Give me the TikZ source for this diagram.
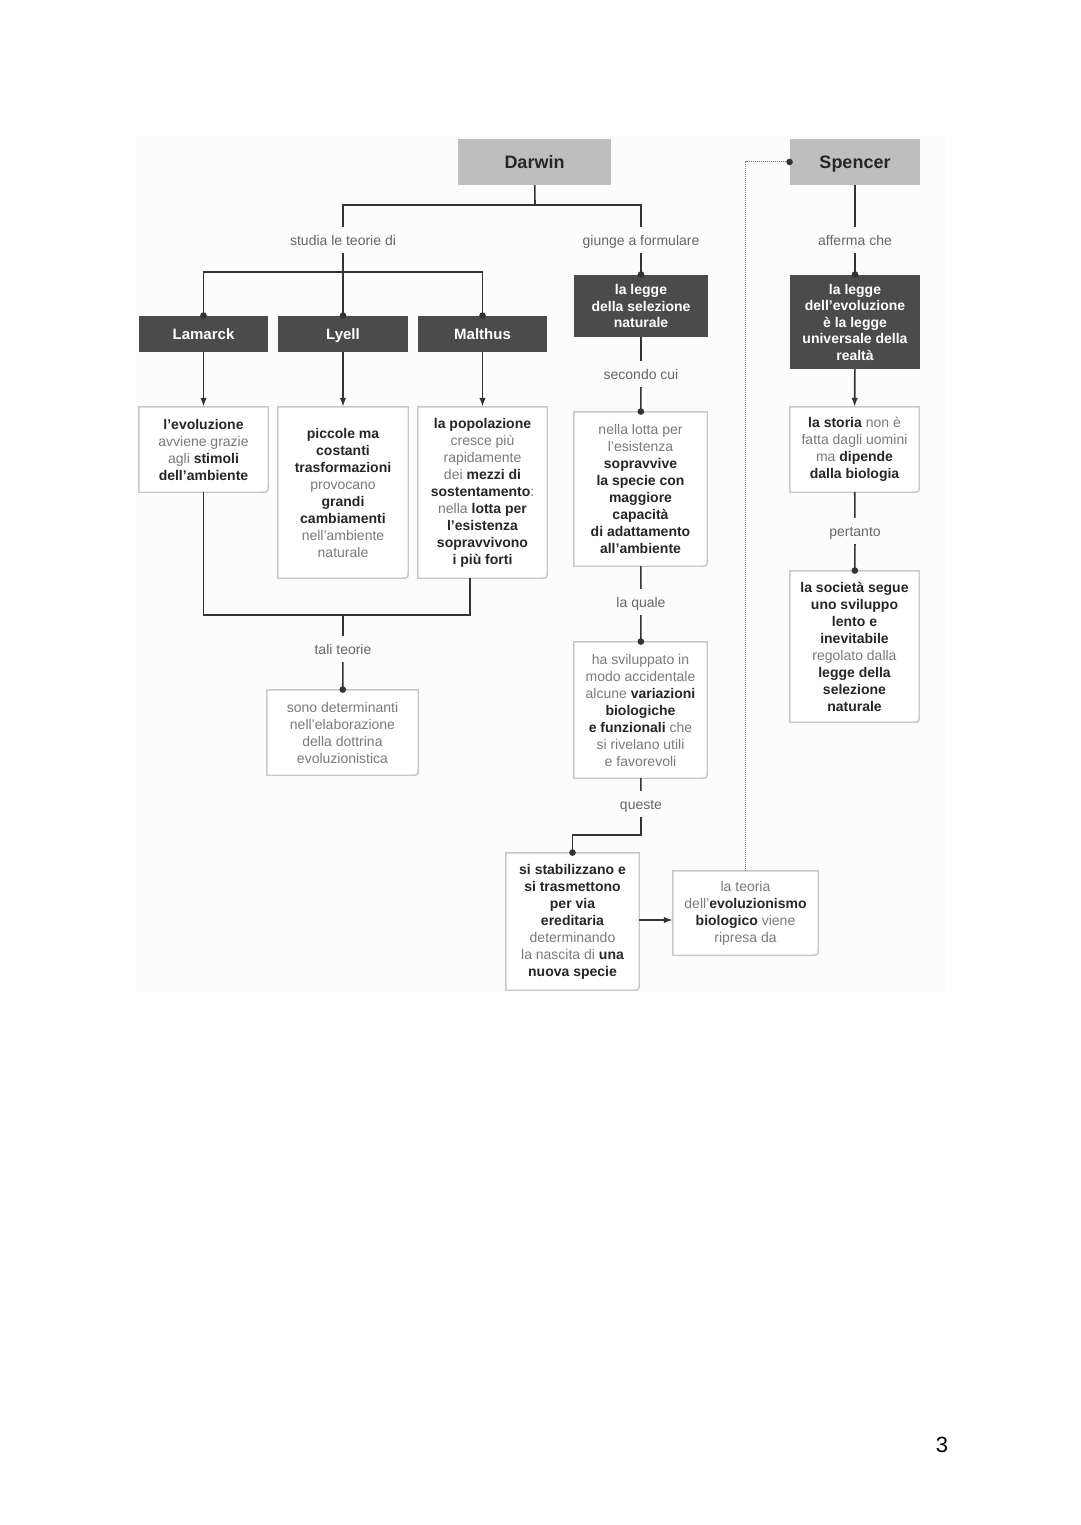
\documentclass[tikz,border=0pt]{standalone}
\usepackage{fontspec}
\setmainfont{Liberation Sans}
\usetikzlibrary{arrows.meta}
\definecolor{bgc}{HTML}{FCFCFC}
\definecolor{ink}{HTML}{262626}
\definecolor{txtgray}{HTML}{7A7A7A}
\definecolor{lblgray}{HTML}{666666}
\definecolor{darkfill}{HTML}{4B4B4B}
\definecolor{headfill}{HTML}{BEBEBE}
\definecolor{linegray}{HTML}{333333}
\definecolor{edgegray}{HTML}{C8C8C8}
\newcommand{\kw}[1]{\textbf{\color{ink}#1}}

\tikzset{
  headbox/.style={fill=headfill, text=ink, font=\fontsize{18}{20}\selectfont\bfseries, inner sep=0pt, text height=13pt, text depth=0pt},
  namebox/.style={fill=darkfill, text=white, font=\fontsize{15}{17}\selectfont\bfseries, inner sep=0pt, text height=11pt, text depth=0pt},
  lawbox/.style={fill=darkfill, text=white, align=center, font=\fontsize{14}{16.5}\selectfont\bfseries, inner sep=0pt},
  txtbox/.style={fill=white, text=txtgray, align=center, font=\fontsize{14}{17}\selectfont, inner sep=0pt},
  lbl/.style={text=lblgray, font=\fontsize{14}{16}\selectfont, inner xsep=2pt, inner ysep=8pt, text height=10pt, text depth=0pt},
  link/.style={draw=linegray, line width=1.6pt},
  dot/.style={-{Circle[length=6.5pt, color=linegray]}, shorten >=-3pt},
  arr/.style={-{Latex[length=9pt,width=6.5pt]}},
  hint/.style={draw=gray, line width=1pt, dash pattern=on 1pt off 1pt},
  edge/.style={draw=edgegray, line width=1.4pt}
}

\begin{document}
\begin{tikzpicture}[x=1pt,y=-1pt]
\useasboundingbox (0,0) rectangle (1080,1525);
\fill[bgc] (136,135) rectangle (945,993);

\node[headbox, minimum width=153pt, minimum height=46pt] (darwin) at (534.5,162) {Darwin};
\node[headbox, minimum width=130pt, minimum height=46pt] (spencer) at (855,162) {Spencer};

\node[namebox, minimum width=129pt, minimum height=36pt] (lamarck) at (203.5,334) {Lamarck};
\node[namebox, minimum width=130pt, minimum height=36pt] (lyell) at (343,334) {Lyell};
\node[namebox, minimum width=129pt, minimum height=36pt] (malthus) at (482.5,334) {Malthus};
\node[lawbox, minimum width=134pt, minimum height=62pt] (leggesel) at (641,306) {la legge\\della selezione\\naturale};
\node[lawbox, minimum width=130pt, minimum height=94pt] (leggeevo) at (855,322) {la legge\\dell’evoluzione\\è la legge\\universale della\\realtà};

\node[txtbox, minimum width=129pt, minimum height=85pt] (evol) at (203.5,449.5) {\kw{l’evoluzione}\\avviene grazie\\agli \kw{stimoli}\\\kw{dell’ambiente}};
\node[txtbox, minimum width=130pt, minimum height=171pt] (lyelltxt) at (343,492.5) {\kw{piccole ma}\\\kw{costanti}\\\kw{trasformazioni}\\provocano\\\kw{grandi}\\\kw{cambiamenti}\\nell’ambiente\\naturale};
\node[txtbox, minimum width=129pt, minimum height=171pt] (malthtxt) at (482.5,492.5) {\kw{la popolazione}\\cresce più\\rapidamente\\dei \kw{mezzi di}\\\kw{sostentamento}:\\nella \kw{lotta per}\\\kw{l’esistenza}\\\kw{sopravvivono}\\\kw{i più forti}};
\node[txtbox, minimum width=151pt, minimum height=85pt] (sono) at (342.5,732.5) {sono determinanti\\nell’elaborazione\\della dottrina\\evoluzionistica};
\node[txtbox, minimum width=133pt, minimum height=154pt] (lotta) at (640.5,489) {nella lotta per\\l’esistenza\\\kw{sopravvive}\\\kw{la specie con}\\\kw{maggiore}\\\kw{capacità}\\\kw{di adattamento}\\\kw{all’ambiente}};
\node[txtbox, minimum width=133pt, minimum height=136pt] (svil) at (640.5,710) {ha sviluppato in\\modo accidentale\\alcune \kw{variazioni}\\\kw{biologiche}\\\kw{e funzionali} che\\si rivelano utili\\e favorevoli};
\node[txtbox, minimum width=133pt, minimum height=137pt] (stab) at (572.5,921.5) {\kw{si stabilizzano e}\\\kw{si trasmettono}\\\kw{per via}\\\kw{ereditaria}\\determinando\\la nascita di \kw{una}\\\kw{nuova specie}};
\node[txtbox, minimum width=145pt, minimum height=84pt] (teoria) at (745.5,913) {la teoria\\dell’\kw{evoluzionismo}\\\kw{biologico} viene\\ripresa da};
\node[txtbox, minimum width=129pt, minimum height=85pt] (storia) at (854.5,449.5) {\kw{la storia} non è\\fatta dagli uomini\\ma \kw{dipende}\\\kw{dalla biologia}};
\node[txtbox, minimum width=129pt, minimum height=151pt] (societa) at (854.5,646.5) {\kw{la società segue}\\\kw{uno sviluppo}\\\kw{lento e}\\\kw{inevitabile}\\regolato dalla\\\kw{legge della}\\\kw{selezione}\\\kw{naturale}};

\foreach \n in {evol,lyelltxt,malthtxt,sono,lotta,svil,stab,teoria,storia,societa}
  \draw[edge] (\n.north west) -- (\n.north east) -- ([yshift=7pt]\n.south east) .. controls (\n.south east) .. ([xshift=-7pt]\n.south east) -- (\n.south west) -- cycle;

\node[lbl] (studia) at (343,240) {studia le teorie di};
\node[lbl] (giunge) at (641,240) {giunge a formulare};
\node[lbl] (afferma) at (855,240) {afferma che};
\node[lbl] (secondo) at (641,374) {secondo cui};
\node[lbl] (quale) at (641,602) {la quale};
\node[lbl] (queste) at (641,804) {queste};
\node[lbl] (pertanto) at (855,531) {pertanto};
\node[lbl] (tali) at (343,649) {tali teorie};

\coordinate (dj) at (535,205);
\coordinate (tj) at (343,272);
\coordinate (qj) at (641,835);
\coordinate (bj) at (343,615);
\coordinate (mb) at (470,578);

\draw[link] (darwin) -- (dj);
\draw[link] (studia.north) |- (dj) -| (giunge);
\draw[link, dot] (studia) -- (lyell);
\draw[link, dot] (tj) -| (lamarck);
\draw[link, dot] (tj) -| (malthus);
\draw[link, dot] (giunge) -- (leggesel);
\draw[link, arr] (lamarck) -- (evol);
\draw[link, arr] (lyell) -- (lyelltxt);
\draw[link, arr] (malthus) -- (malthtxt);
\draw[link] (evol) |- (bj) -| (mb);
\draw[link] (bj) -- (tali);
\draw[link, dot] (tali) -- (sono);
\draw[link] (leggesel) -- (secondo);
\draw[link, dot] (secondo) -- (lotta);
\draw[link] (lotta) -- (quale);
\draw[link, dot] (quale) -- (svil);
\draw[link] (svil) -- (queste);
\draw[link, dot] (queste) -- (qj) -| (stab);
\draw[link, arr] (stab.east |- 0,920) -- (teoria.west |- 0,920);
\draw[hint, dot] (teoria.north) |- (spencer);
\draw[link] (spencer) -- (afferma);
\draw[link, dot] (afferma) -- (leggeevo);
\draw[link, arr] (leggeevo) -- (storia);
\draw[link] (storia) -- (pertanto);
\draw[link, dot] (pertanto) -- (societa);

\node[font=\fontsize{22}{24}\selectfont] (pagenum) at (942,1445) {3};
\end{tikzpicture}
\end{document}
